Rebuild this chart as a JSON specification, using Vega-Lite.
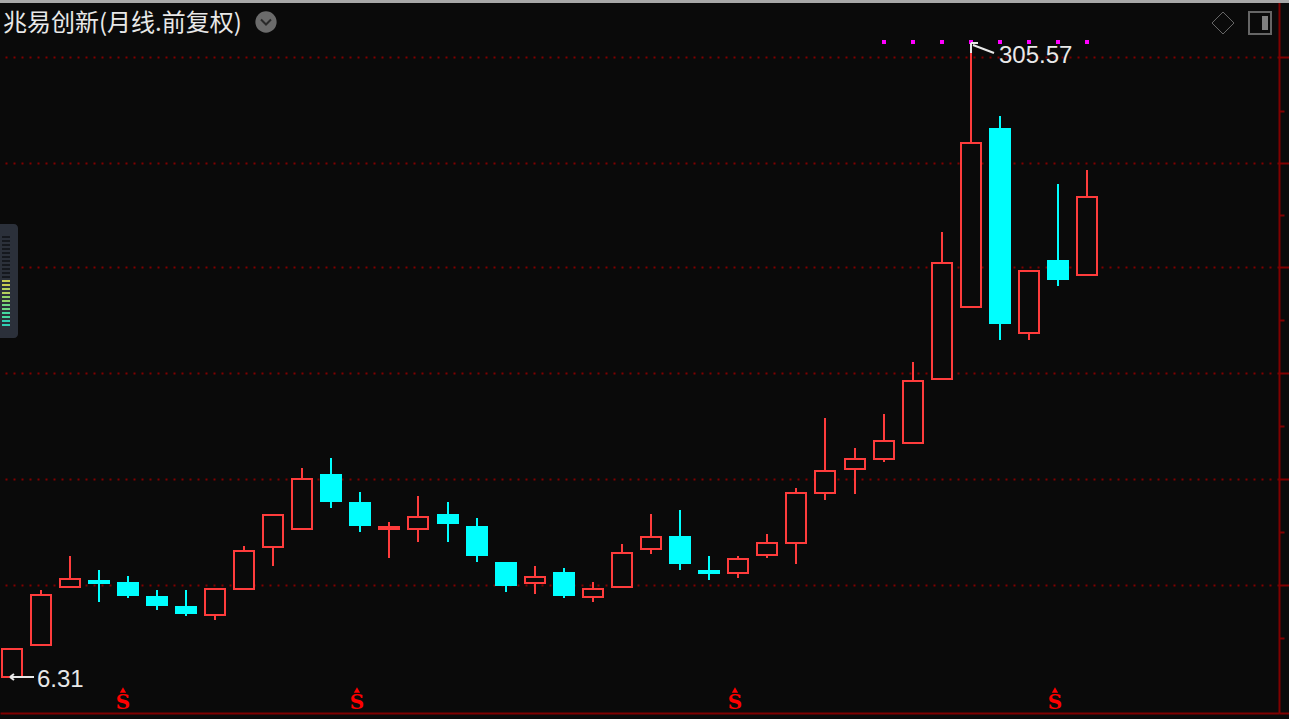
{
"$schema":"https://vega.github.io/schema/vega-lite/v6.json",
"width":1279,"height":713,"autosize":{"type":"none"},"padding":{"left":0,"top":0,"right":10,"bottom":6},"background":"#0a0a0a",
"config":{"view":{"stroke":null}},
"title":{"text":"兆易创新(月线.前复权)","anchor":"start","frame":"group","offset":-37,"dx":3,"font":"Noto Sans CJK SC","fontSize":24,"fontWeight":"normal","color":"#e8e8e8"},
"datasets":{
"candles":[
{"n":0,"open":6.31,"close":7.49,"hi":7.49,"lo":6.31},
{"n":1,"open":7.68,"close":10.43,"hi":10.76,"lo":7.68},
{"n":2,"open":10.96,"close":11.51,"hi":13.25,"lo":10.96},
{"n":3,"open":11.37,"close":11.23,"hi":12.16,"lo":9.99},
{"n":4,"open":11.23,"close":10.43,"hi":11.72,"lo":10.24},
{"n":5,"open":10.30,"close":9.81,"hi":10.76,"lo":9.51},
{"n":6,"open":9.69,"close":9.34,"hi":10.76,"lo":9.17},
{"n":7,"open":9.23,"close":10.82,"hi":10.82,"lo":8.95},
{"n":8,"open":10.82,"close":13.66,"hi":14.09,"lo":10.82},
{"n":9,"open":14.00,"close":17.03,"hi":17.03,"lo":12.46},
{"n":10,"open":15.63,"close":21.24,"hi":22.72,"lo":15.63},
{"n":11,"open":21.77,"close":18.56,"hi":24.16,"lo":17.78},
{"n":12,"open":18.33,"close":16.02,"hi":19.61,"lo":15.35},
{"n":13,"open":15.63,"close":15.83,"hi":16.32,"lo":13.09},
{"n":14,"open":15.63,"close":16.83,"hi":19.14,"lo":14.43},
{"n":15,"open":17.03,"close":16.22,"hi":18.45,"lo":14.43},
{"n":16,"open":15.83,"close":13.33,"hi":16.72,"lo":12.77},
{"n":17,"open":12.69,"close":11.09,"hi":12.77,"lo":10.62},
{"n":18,"open":11.23,"close":11.65,"hi":12.46,"lo":10.50},
{"n":19,"open":11.94,"close":10.43,"hi":12.31,"lo":10.24},
{"n":20,"open":10.30,"close":10.82,"hi":11.30,"lo":9.99},
{"n":21,"open":10.96,"close":13.49,"hi":14.26,"lo":10.96},
{"n":22,"open":13.83,"close":14.88,"hi":17.14,"lo":13.41},
{"n":23,"open":14.88,"close":12.69,"hi":17.56,"lo":12.16},
{"n":24,"open":12.08,"close":11.94,"hi":13.25,"lo":11.44},
{"n":25,"open":11.94,"close":13.01,"hi":13.25,"lo":11.58},
{"n":26,"open":13.33,"close":14.35,"hi":15.16,"lo":13.09},
{"n":27,"open":14.35,"close":19.49,"hi":20.10,"lo":12.61},
{"n":28,"open":19.49,"close":22.31,"hi":30.87,"lo":18.67},
{"n":29,"open":22.58,"close":24.01,"hi":25.68,"lo":19.37},
{"n":30,"open":24.01,"close":26.81,"hi":31.63,"lo":23.57},
{"n":31,"open":26.48,"close":38.72,"hi":43.51,"lo":26.48},
{"n":32,"open":39.20,"close":79.81,"hi":96.52,"lo":39.20},
{"n":33,"open":60.95,"close":166.53,"hi":305.57,"lo":60.95},
{"n":34,"open":181.45,"close":55.25,"hi":196.50,"lo":49.79},
{"n":35,"open":51.97,"close":75.99,"hi":75.99,"lo":49.79},
{"n":36,"open":80.80,"close":72.36,"hi":129.53,"lo":69.32},
{"n":37,"open":74.15,"close":119.61,"hi":141.14,"lo":74.15}
],
"flags":[{"n":30,"p":309.27},{"n":31,"p":309.27},{"n":32,"p":309.27},{"n":33,"p":309.27},{"n":34,"p":309.27},{"n":35,"p":309.27},{"n":36,"p":309.27},{"n":37,"p":309.27}],
"notes":[{"n":33.97,"p":284,"label":"305.57"},{"n":0.877,"p":6.195,"label":"6.31"}],
"arrows":[
{"n":33.006,"n2":33.247,"p":307.38,"p2":307.38},
{"n":33.006,"n2":33.006,"p":307.38,"p2":289.11},
{"n":33.07,"n2":33.797,"p":303.64,"p2":289.11},
{"n":-0.052,"n2":0.774,"p":6.31,"p2":6.31},
{"n":-0.052,"n2":0.086,"p":6.31,"p2":6.43},
{"n":-0.052,"n2":0.086,"p":6.31,"p2":6.19}
],
"signals":[{"n":3.836,"s":5.38,"t":5.83},{"n":11.885,"s":5.38,"t":5.83},{"n":24.888,"s":5.38,"t":5.83},{"n":35.896,"s":5.38,"t":5.83}],
"meter":[
{"p":93.6,"level":"a"},{"p":91.34,"level":"a"},{"p":89.12,"level":"a"},{"p":86.96,"level":"a"},{"p":84.86,"level":"a"},{"p":82.8,"level":"a"},{"p":80.8,"level":"a"},{"p":78.84,"level":"a"},{"p":76.93,"level":"a"},{"p":75.07,"level":"a"},{"p":73.25,"level":"a"},
{"p":71.48,"level":"b"},{"p":69.75,"level":"b"},{"p":68.06,"level":"c"},{"p":66.41,"level":"c"},{"p":64.8,"level":"d"},{"p":63.23,"level":"d"},{"p":61.7,"level":"e"},{"p":60.2,"level":"e"},{"p":58.75,"level":"f"},{"p":57.32,"level":"f"},{"p":55.93,"level":"g"},{"p":54.58,"level":"g"}
]
},
"layer":[
{"data":{"name":"candles"},"mark":{"type":"rule","strokeWidth":2},
"encoding":{
"x":{"field":"n","type":"quantitative","scale":{"domain":[-0.3956,43.601],"nice":false,"zero":false,"round":true,"padding":0},"axis":{"orient":"bottom","title":null,"labels":false,"ticks":false,"grid":false,"domainColor":"#800000","domainWidth":2}},
"y":{"field":"lo","type":"quantitative","scale":{"type":"log","domain":[5.06,400.2],"nice":false,"round":true,"padding":0},
"axis":{"orient":"right","title":null,"labels":false,"values":[5.06,8.01,11.09,15.35,21.24,29.39,40.67,56.28,77.88,107.11,147.33,202.61,282.11],"domainColor":"#800000","domainWidth":2,"tickColor":"#800000","tickWidth":2,"tickRound":true,
"tickSize":{"condition":{"test":"indexof([8.01,15.35,29.39,56.28,107.11,202.61],datum.value)>=0","value":5},"value":10},
"grid":true,"gridColor":"#800000","gridWidth":2,"gridDash":[2,6],
"gridOpacity":{"condition":{"test":"indexof([5.06,8.01,15.35,29.39,56.28,107.11,202.61],datum.value)>=0","value":0},"value":1}}},
"y2":{"field":"hi"},
"color":{"condition":{"test":"datum.close<datum.open","value":"#00ffff"},"value":"#ff3c3c"}}},
{"data":{"name":"candles"},"mark":{"type":"bar","size":20,"orient":"vertical","strokeWidth":2},
"encoding":{
"x":{"field":"n","type":"quantitative","scale":{"domain":[-0.3956,43.601],"nice":false,"zero":false,"round":true,"padding":0}},
"y":{"field":"open","type":"quantitative","scale":{"type":"log","domain":[5.06,400.2],"nice":false,"round":true,"padding":0}},
"y2":{"field":"close"},
"fill":{"condition":{"test":"datum.close<datum.open","value":"#00ffff"},"value":"#0a0a0a"},
"stroke":{"condition":{"test":"datum.close<datum.open","value":"#00ffff"},"value":"#ff3c3c"}}},
{"data":{"name":"flags"},"mark":{"type":"point","shape":"square","filled":true,"size":16,"color":"#ff00ff","opacity":1},
"encoding":{
"x":{"field":"n","type":"quantitative","scale":{"domain":[-0.3956,43.601],"nice":false,"zero":false,"round":true,"padding":0}},
"y":{"field":"p","type":"quantitative","scale":{"type":"log","domain":[5.06,400.2],"nice":false,"round":true,"padding":0}}}},
{"data":{"name":"arrows"},"mark":{"type":"rule","strokeWidth":2,"color":"#e8e8e8"},
"encoding":{
"x":{"field":"n","type":"quantitative","scale":{"domain":[-0.3956,43.601],"nice":false,"zero":false,"round":true,"padding":0}},
"x2":{"field":"n2"},
"y":{"field":"p","type":"quantitative","scale":{"type":"log","domain":[5.06,400.2],"nice":false,"round":true,"padding":0}},
"y2":{"field":"p2"}}},
{"data":{"name":"notes"},"mark":{"type":"text","align":"left","baseline":"middle","font":"Liberation Sans","fontSize":24,"color":"#e8e8e8"},
"encoding":{
"x":{"field":"n","type":"quantitative","scale":{"domain":[-0.3956,43.601],"nice":false,"zero":false,"round":true,"padding":0}},
"y":{"field":"p","type":"quantitative","scale":{"type":"log","domain":[5.06,400.2],"nice":false,"round":true,"padding":0}},
"text":{"field":"label"}}},
{"data":{"name":"signals"},"mark":{"type":"text","align":"center","baseline":"middle","font":"DejaVu Serif","fontWeight":"bold","fontSize":20,"color":"#ff0000","text":"S"},
"encoding":{
"x":{"field":"n","type":"quantitative","scale":{"domain":[-0.3956,43.601],"nice":false,"zero":false,"round":true,"padding":0}},
"y":{"field":"s","type":"quantitative","scale":{"type":"log","domain":[5.06,400.2],"nice":false,"round":true,"padding":0}}}},
{"data":{"name":"signals"},"mark":{"type":"point","shape":"triangle-up","filled":true,"size":40,"color":"#ff0000","opacity":1},
"encoding":{
"x":{"field":"n","type":"quantitative","scale":{"domain":[-0.3956,43.601],"nice":false,"zero":false,"round":true,"padding":0}},
"y":{"field":"t","type":"quantitative","scale":{"type":"log","domain":[5.06,400.2],"nice":false,"round":true,"padding":0}}}},
{"data":{"values":[{"n":-0.5,"n2":44.5,"p":397.7}]},"mark":{"type":"rule","strokeWidth":4,"color":"#a8a8a8"},
"encoding":{
"x":{"field":"n","type":"quantitative","scale":{"domain":[-0.3956,43.601],"nice":false,"zero":false,"round":true,"padding":0}},
"x2":{"field":"n2"},
"y":{"field":"p","type":"quantitative","scale":{"type":"log","domain":[5.06,400.2],"nice":false,"round":true,"padding":0}}}},
{"data":{"values":[{"n":-0.3956,"n2":0.223,"p":50.4,"p2":101.37}]},"mark":{"type":"rect","color":"#2b303a","cornerRadiusTopRight":4,"cornerRadiusBottomRight":4},
"encoding":{
"x":{"field":"n","type":"quantitative","scale":{"domain":[-0.3956,43.601],"nice":false,"zero":false,"round":true,"padding":0}},
"x2":{"field":"n2"},
"y":{"field":"p","type":"quantitative","scale":{"type":"log","domain":[5.06,400.2],"nice":false,"round":true,"padding":0}},
"y2":{"field":"p2"}}},
{"data":{"name":"meter"},"mark":{"type":"rule","strokeWidth":2},
"encoding":{
"x":{"datum":-0.327,"type":"quantitative","scale":{"domain":[-0.3956,43.601],"nice":false,"zero":false,"round":true,"padding":0}},
"x2":{"datum":-0.052},
"y":{"field":"p","type":"quantitative","scale":{"type":"log","domain":[5.06,400.2],"nice":false,"round":true,"padding":0}},
"color":{"field":"level","type":"nominal","legend":null,"scale":{"domain":["a","b","c","d","e","f","g"],"range":["#15181e","#c8cc50","#b4d05c","#90d468","#6cd884","#44d8a0","#30d0b4"]}}}},
{"data":{"values":[{"n":8.754,"p":349.7}]},"mark":{"type":"point","shape":"circle","filled":true,"size":452,"color":"#6b6b6b","opacity":1},
"encoding":{
"x":{"field":"n","type":"quantitative","scale":{"domain":[-0.3956,43.601],"nice":false,"zero":false,"round":true,"padding":0}},
"y":{"field":"p","type":"quantitative","scale":{"type":"log","domain":[5.06,400.2],"nice":false,"round":true,"padding":0}}}},
{"data":{"values":[{"n":8.754,"p":349.7}]},"mark":{"type":"point","shape":"M-1,-0.5L0,0.5L1,-0.5","filled":false,"size":100,"stroke":"#2a2a2a","strokeWidth":2,"opacity":1},
"encoding":{
"x":{"field":"n","type":"quantitative","scale":{"domain":[-0.3956,43.601],"nice":false,"zero":false,"round":true,"padding":0}},
"y":{"field":"p","type":"quantitative","scale":{"type":"log","domain":[5.06,400.2],"nice":false,"round":true,"padding":0}}}},
{"data":{"values":[{"n":41.674,"p":347.6}]},"mark":{"type":"point","shape":"diamond","filled":false,"size":484,"stroke":"#666666","strokeWidth":1,"opacity":1},
"encoding":{
"x":{"field":"n","type":"quantitative","scale":{"domain":[-0.3956,43.601],"nice":false,"zero":false,"round":true,"padding":0}},
"y":{"field":"p","type":"quantitative","scale":{"type":"log","domain":[5.06,400.2],"nice":false,"round":true,"padding":0}}}},
{"data":{"values":[{"n":42.947,"p":347.6}]},"mark":{"type":"point","shape":"square","filled":false,"size":484,"stroke":"#666666","strokeWidth":2,"opacity":1},
"encoding":{
"x":{"field":"n","type":"quantitative","scale":{"domain":[-0.3956,43.601],"nice":false,"zero":false,"round":true,"padding":0}},
"y":{"field":"p","type":"quantitative","scale":{"type":"log","domain":[5.06,400.2],"nice":false,"round":true,"padding":0}}}},
{"data":{"values":[{"n":43.119,"p":333,"p2":362.8}]},"mark":{"type":"rule","strokeWidth":6,"color":"#808080"},
"encoding":{
"x":{"field":"n","type":"quantitative","scale":{"domain":[-0.3956,43.601],"nice":false,"zero":false,"round":true,"padding":0}},
"y":{"field":"p","type":"quantitative","scale":{"type":"log","domain":[5.06,400.2],"nice":false,"round":true,"padding":0}},
"y2":{"field":"p2"}}}
]
}
